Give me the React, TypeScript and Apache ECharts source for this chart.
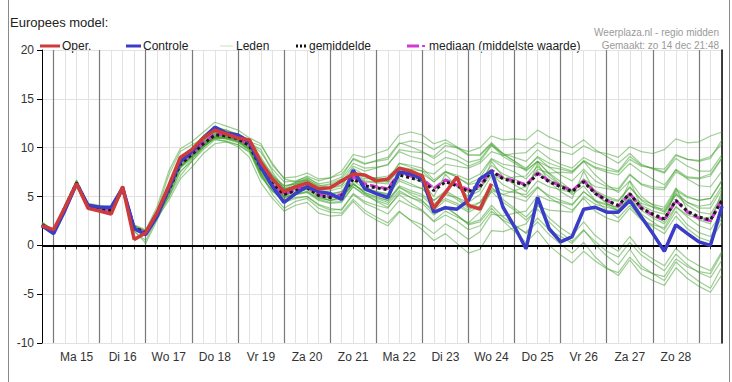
import React, { useEffect, useRef } from "react";
import * as echarts from "echarts";

const dayLabels = ["Ma 15", "Di 16", "Wo 17", "Do 18", "Vr 19", "Za 20", "Zo 21", "Ma 22", "Di 23", "Wo 24", "Do 25", "Vr 26", "Za 27", "Zo 28"];
const hourLabels = ["00", "06", "12", "18"];
const firstDay = "Zo 14";
const lastDay = "Ma 29";
const slotCount = 60;
const yTicks = { min: -10, max: 20, step: 5 };

const oper = [
  2.0, 1.6, 3.9, 6.3, 3.8, 3.5, 3.2, 6.0, 0.6, 1.3,
  3.4, 6.1, 9.0, 9.8, 11.0, 11.8, 11.4, 11.0, 10.8, 8.5,
  6.8, 5.5, 6.0, 6.4, 5.8, 5.9, 6.6, 7.3, 7.2, 6.6,
  6.8, 7.9, 7.6, 7.1, 3.8, 5.4, 7.0, 4.1, 3.7, 6.3,
];

const controle = [
  2.0, 1.2, 3.6, 6.3, 4.1, 3.9, 3.9, 5.9, 1.7, 1.1,
  3.0, 5.8, 8.6, 9.6, 11.0, 12.1, 11.5, 11.3, 10.6, 8.0,
  6.0, 4.4, 5.3, 6.0, 5.5, 5.3, 4.7, 7.7, 5.8, 5.3,
  4.9, 7.5, 7.3, 6.8, 3.4, 3.85, 3.7, 4.6, 6.8, 7.6,
  3.9, 1.9, -0.35, 4.9, 1.7, 0.35, 0.9, 3.7, 3.9, 3.4,
  3.4, 4.6, 2.9, 1.2, -0.6, 2.1, 1.2, 0.35, 0.0, 4.0,
];

const gemiddelde = [
  2.1, 1.4, 3.9, 6.4, 4.0, 3.8, 3.6, 5.8, 1.8, 1.3,
  3.3, 5.6, 8.3, 9.3, 10.4, 11.3, 11.2, 10.9, 10.2, 7.9,
  6.3, 5.2, 5.6, 5.9, 5.1, 4.9, 5.1, 6.8, 6.1, 5.9,
  5.7, 7.2, 6.9, 6.6, 5.6, 6.5, 6.1, 5.5, 6.0, 7.6,
  6.8, 6.5, 6.1, 7.3, 6.5, 6.0, 5.5, 6.5, 5.3, 4.6,
  4.1, 5.3, 3.8, 3.2, 2.7, 4.6, 3.5, 2.9, 2.6, 4.6,
];

const mediaan = [
  2.1, 1.4, 3.9, 6.4, 4.0, 3.8, 3.6, 5.8, 1.8, 1.3,
  3.3, 5.7, 8.4, 9.4, 10.5, 11.4, 11.3, 10.9, 10.3, 7.9,
  6.2, 5.2, 5.7, 6.0, 5.2, 5.0, 5.2, 7.0, 6.3, 6.0,
  5.8, 7.4, 7.1, 6.8, 5.8, 6.7, 6.2, 5.7, 6.1, 7.7,
  6.9, 6.6, 6.2, 7.4, 6.6, 6.1, 5.6, 6.6, 5.4, 4.6,
  4.0, 5.3, 3.8, 3.1, 2.6, 4.6, 3.4, 2.8, 2.5, 4.7,
];

const leden: number[][] = [
  [2.3,1.6,4.1,6.6,4.3,4.1,3.9,6.0,2.0,1.5, 3.6,6.2,9.0,10.0,11.2,12.1,11.8,11.3,10.6,8.6, 7.0,6.1,6.3,6.8,6.0,6.2,6.5,8.1,7.6,7.9, 8.3,9.6,9.1,8.8,8.2,9.0,8.7,8.1,8.6,10.2, 9.4,9.0,8.6,9.8,8.9,8.3,7.9,9.0,8.4,8.0, 7.6,9.1,8.2,7.9,7.5,9.2,8.8,8.6,8.9,10.8],
  [1.9,1.2,3.6,6.1,3.7,3.5,3.3,5.5,1.5,0.2, 2.6,5.0,7.6,8.6,9.8,10.8,10.7,10.3,9.5,7.0, 5.6,4.4,4.8,5.0,4.2,3.8,3.6,5.2,4.3,3.8, 3.2,4.6,4.0,3.5,2.4,3.1,2.5,1.6,2.0,3.5, 2.6,2.0,1.3,2.8,1.6,0.9,0.2,1.5,0.4,-0.6, -1.2,0.3,-1.0,-1.8,-2.6,-0.9,-2.0,-2.8,-3.3,-1.5],
  [2.2,1.5,4.0,6.5,4.1,3.9,3.7,5.9,1.9,1.4, 3.5,6.0,8.8,9.7,10.9,11.8,11.6,11.2,10.5,9.5, 7.8,6.5,6.6,7.0,6.2,5.8,6.1,7.9,7.2,6.8, 6.5,8.4,8.2,7.9,6.7,7.6,7.0,6.3,6.9,8.8, 8.0,7.5,6.8,8.1,7.0,6.2,5.5,6.6,5.2,4.3, 3.6,4.9,3.2,2.4,1.6,3.5,2.1,1.3,0.9,2.8],
  [2.0,1.3,3.7,6.2,3.9,3.6,3.4,5.6,1.6,1.1, 3.0,5.2,7.9,8.9,10.0,11.0,10.9,10.6,9.8,7.2, 5.9,4.9,5.2,5.5,4.7,4.4,4.5,6.0,5.2,4.8, 4.4,5.9,5.4,5.0,3.9,4.8,4.3,3.6,4.4,6.2, 5.6,5.4,5.2,6.6,6.0,5.7,5.4,6.8,6.0,5.8, 5.6,7.2,6.3,6.0,5.9,7.8,7.0,6.9,7.3,9.0],
  [2.4,1.5,4.2,6.7,4.2,4.0,3.8,6.1,2.1,1.6, 4.0,7.6,9.9,10.6,11.6,12.6,12.2,11.8,11.0,10.4, 8.2,6.9,7.0,7.4,6.8,6.9,7.3,8.8,8.3,8.7, 9.0,10.5,10.1,9.6,8.9,9.7,9.2,8.5,8.8,10.3, 9.1,8.4,7.6,8.6,7.4,6.5,5.6,6.7,5.5,4.8, 4.5,5.9,4.7,4.2,3.9,5.8,5.0,4.6,4.8,6.7],
  [2.0,1.4,3.8,6.3,3.8,3.6,3.5,5.7,1.7,1.2, 3.1,5.0,7.5,8.8,10.1,10.9,10.6,10.1,9.0,6.4, 4.8,3.5,4.1,4.4,3.3,3.0,3.1,4.5,3.3,2.6, 2.0,3.4,2.6,2.1,1.2,2.2,1.5,0.6,1.4,3.2, 3.0,3.3,3.5,5.1,4.6,4.4,4.1,5.5,4.5,4.1, 3.5,4.8,3.6,2.8,2.2,4.0,2.9,2.0,1.6,3.4],
  [2.1,1.4,3.9,6.4,4.0,3.8,3.6,5.8,1.8,1.3, 3.6,7.2,9.6,10.3,10.9,11.6,11.3,11.0,10.3,8.0, 6.2,5.0,5.7,6.2,5.0,4.6,4.9,7.5,6.0,5.5, 5.2,8.0,7.0,6.4,5.0,7.3,6.0,5.0,5.6,8.6, 7.0,6.2,5.5,8.4,6.5,5.5,4.8,7.6,5.4,4.3, 3.8,6.6,4.0,3.0,2.4,5.9,3.6,2.6,2.2,5.6],
  [2.2,1.4,3.9,6.4,4.1,3.9,3.8,6.0,1.9,1.3, 3.3,5.8,8.5,9.5,10.6,11.5,11.2,10.8,10.1,8.8, 7.2,5.8,6.0,6.2,5.5,5.6,5.9,7.2,6.8,6.9, 7.1,8.0,7.8,7.6,7.3,8.3,8.1,7.9,8.4,9.6, 9.2,9.4,9.5,10.5,9.9,9.6,9.3,10.2,9.6,9.4, 9.0,10.1,9.6,9.4,9.8,10.9,10.5,10.6,11.2,11.6],
  [2.1,1.3,3.8,6.3,4.0,3.7,3.5,5.7,1.7,1.2, 3.2,5.4,8.0,9.1,10.2,11.1,11.0,10.6,9.9,7.4, 5.9,5.0,5.3,5.5,4.8,4.6,4.9,6.2,5.6,5.3, 5.1,6.6,6.1,5.8,4.6,5.4,4.7,3.8,4.0,5.5, 4.4,3.6,2.6,3.7,2.4,1.3,0.4,1.6,0.1,-1.1, -2.0,-0.4,-2.1,-2.9,-3.6,-1.7,-2.8,-3.7,-4.4,-2.2],
  [2.3,1.6,4.0,6.5,3.9,3.7,3.4,5.6,1.6,1.2, 3.4,5.9,8.6,9.4,10.3,11.0,11.0,10.9,10.5,9.8, 7.5,5.8,5.9,6.4,5.5,5.1,5.0,6.4,5.3,4.5, 3.9,5.2,4.3,3.6,2.5,3.5,2.9,2.3,3.4,5.6, 5.2,5.6,6.0,7.8,7.4,7.5,7.4,8.6,7.9,7.5, 7.2,8.4,7.5,6.8,6.2,7.7,6.8,6.1,6.0,7.6],
  [1.9,1.3,3.8,6.2,4.1,3.9,3.7,5.9,1.8,1.4, 3.5,5.7,8.1,9.1,10.2,11.2,11.1,10.8,10.0,7.6, 6.1,5.3,5.8,6.0,5.3,5.2,5.5,7.1,6.5,6.4, 6.3,7.9,7.4,6.9,5.9,6.8,6.2,5.4,5.8,7.3, 6.2,5.6,4.9,6.0,4.9,4.2,3.6,4.8,3.5,2.8, 2.4,3.8,2.6,2.1,1.8,3.9,3.1,2.7,2.9,4.9],
  [2.2,1.5,4.0,6.5,4.0,3.8,3.6,5.8,1.8,1.3, 3.3,5.6,8.4,9.5,10.7,11.7,11.5,11.1,10.4,8.2, 6.6,5.7,6.4,6.9,6.3,6.5,7.0,8.9,8.4,8.6, 8.8,10.4,10.7,10.5,9.8,10.5,10.0,9.2,9.3,10.5, 9.4,8.6,7.7,8.6,7.3,6.2,5.2,6.1,4.6,3.6, 2.8,4.1,2.7,1.9,1.2,3.0,1.7,0.8,0.4,2.4],
  [2.0,1.3,3.7,6.2,3.8,3.6,3.4,5.6,1.7,1.1, 2.8,4.6,6.8,8.0,9.4,10.4,10.6,10.3,9.6,7.3, 5.5,4.6,4.9,5.0,4.1,3.6,3.7,5.3,4.5,4.1, 3.8,5.4,4.9,4.5,3.6,4.6,4.1,3.4,4.0,5.8, 5.2,4.9,4.5,5.9,5.1,4.6,4.2,5.5,4.6,4.2, 3.9,5.3,4.3,3.9,3.7,5.6,4.9,4.6,4.8,6.6],
  [2.1,1.5,4.0,6.4,4.0,3.8,3.7,5.9,1.8,1.3, 3.4,5.6,8.3,9.3,10.4,11.4,11.4,11.1,10.4,8.1, 6.4,5.4,5.8,6.1,5.4,5.3,5.5,7.2,6.6,6.5, 6.5,7.8,7.5,7.3,6.5,7.5,7.2,6.7,7.3,8.9, 8.3,8.1,7.8,9.1,8.4,8.0,7.6,8.6,7.2,6.2, 5.4,6.6,5.0,4.1,3.5,5.4,4.4,3.8,3.8,5.8],
  [2.0,1.2,3.8,6.3,3.9,3.7,3.5,5.7,1.4,0.5, 2.8,5.3,8.0,9.0,10.1,11.0,10.9,10.5,9.7,7.5, 6.0,4.9,5.2,5.4,4.6,4.3,4.4,6.0,5.1,4.6, 4.2,5.6,4.9,4.3,3.1,3.9,3.1,2.2,2.6,4.1, 2.9,2.1,1.2,2.4,1.1,0.1,-0.8,0.3,-1.2,-2.3, -3.1,-1.5,-3.0,-3.6,-4.1,-2.3,-3.4,-4.2,-4.8,-3.0],
  [2.3,1.5,4.1,6.6,4.2,4.0,3.8,6.0,2.0,1.5, 3.6,6.0,8.7,9.8,11.0,12.0,11.8,11.4,10.7,9.0, 7.2,6.1,6.3,6.6,5.9,5.9,6.2,7.6,7.0,6.9, 6.8,8.4,8.0,7.6,6.5,7.5,7.0,6.2,6.5,8.2, 7.3,6.8,6.2,7.6,6.7,6.1,5.6,6.7,5.6,5.0, 4.6,6.0,4.6,3.9,3.4,5.2,4.1,3.4,3.2,5.1],
  [2.2,1.5,3.9,6.4,4.0,3.8,3.6,5.8,1.8,1.3, 3.3,5.7,8.4,9.4,10.5,11.3,11.2,11.0,10.6,10.2, 8.4,6.8,6.5,6.7,5.6,5.0,5.0,6.3,5.4,4.9, 4.6,6.1,5.6,5.2,4.2,5.2,4.9,4.4,5.2,7.1, 6.8,7.0,7.1,8.6,8.0,7.8,7.5,8.7,8.0,7.7, 7.5,8.8,8.1,7.9,7.8,9.3,8.8,8.7,9.1,10.4],
  [2.1,1.4,3.8,6.3,3.9,3.7,3.6,5.8,1.8,1.2, 3.2,5.4,8.0,9.2,10.3,11.1,11.0,10.7,9.8,7.0, 5.6,4.8,5.4,5.8,5.0,4.8,5.0,6.6,5.8,5.5, 5.3,6.8,6.3,5.8,4.6,5.6,4.9,4.0,4.4,6.0, 4.7,3.8,2.9,4.2,2.8,1.8,1.0,2.4,1.0,0.1, -0.6,0.9,-0.6,-1.4,-2.1,-0.3,-1.4,-2.1,-2.6,-0.6],
  [2.2,1.5,4.0,6.5,4.1,3.9,3.7,5.9,1.9,1.4, 3.4,5.9,8.6,9.6,10.8,11.6,11.4,11.0,10.3,8.3, 6.8,5.9,6.5,7.1,6.6,6.9,7.6,9.3,9.0,9.4, 9.8,11.3,11.6,11.3,10.4,10.8,10.1,9.3,9.2,10.4, 9.3,8.6,7.9,9.0,8.0,7.2,6.6,7.8,6.6,6.0, 5.8,7.3,6.2,5.8,5.7,7.5,6.9,6.8,7.1,8.9],
  [2.0,1.3,3.8,6.3,4.0,3.8,3.6,5.7,1.7,1.2, 3.0,4.9,7.1,8.6,10.0,11.0,11.0,10.7,9.9,7.3, 5.2,3.8,4.5,4.8,3.8,3.4,3.3,4.7,3.6,2.9, 2.3,3.5,2.5,1.6,0.5,1.2,0.2,-0.8,-0.4,1.5, 1.4,1.8,2.2,4.0,3.6,3.5,3.4,5.0,4.2,3.9, 3.6,5.1,4.1,3.5,3.2,5.2,4.4,4.0,4.2,6.1],
  [2.2,1.4,3.9,6.4,4.0,3.9,3.7,5.9,1.8,1.3, 3.3,5.7,8.3,9.4,10.5,11.4,11.2,10.9,10.2,8.0, 6.5,5.6,6.2,6.7,6.1,6.3,6.8,8.4,7.9,8.0, 8.2,9.8,9.6,9.5,9.1,10.2,10.0,9.6,10.0,11.2, 10.8,10.9,10.8,11.8,11.1,10.6,10.0,10.8,9.8,9.1, 8.4,9.4,8.3,7.8,7.4,8.9,8.1,7.6,7.6,9.3],
  [2.1,1.4,3.9,6.4,4.0,3.8,3.6,5.8,1.8,1.3, 3.3,5.5,8.1,9.2,10.3,11.2,11.1,10.8,10.0,7.7, 6.2,5.1,5.5,5.7,4.9,4.6,4.7,6.3,5.4,5.0, 4.6,6.0,5.2,4.6,3.3,4.0,3.1,2.1,2.4,3.8, 2.5,1.4,0.3,1.5,0.0,-1.0,-1.8,-0.6,-1.6,-2.4, -2.8,-1.2,-2.4,-2.9,-3.2,-1.4,-2.2,-2.7,-2.9,-0.8],
];

const legendNames = ["Oper.", "Controle", "Leden", "gemiddelde", "mediaan (middelste waarde)"];
const titleText = "Europees model:";
const sourceText = "Weerplaza.nl - regio midden";
const madeText = "Gemaakt: zo 14 dec 21:48";

const RED = "#cf3b3b";
const BLUE = "#3a3dc6";
const GREEN = "rgba(60,160,40,0.5)";
const MAGENTA = "#d23ad2";
const FONT = "Liberation Sans, Arial, sans-serif";

function buildCategories(): string[] {
  const cats: string[] = [];
  for (let i = 0; i < slotCount; i++) {
    const dayIdx = Math.floor((i + 3) / 4) - 1;
    const day = dayIdx < 0 ? firstDay : dayIdx < dayLabels.length ? dayLabels[dayIdx] : lastDay;
    cats.push(`${day} ${hourLabels[(i + 3) % 4]}`);
  }
  return cats;
}

export default function App() {
  const ref = useRef<HTMLDivElement>(null);
  useEffect(() => {
    if (!ref.current) return;
    const chart = echarts.init(ref.current, undefined, { renderer: "svg" });
    const categories = buildCategories();
    const isLabelSlot = (idx: number) => (idx + 3) % 4 === 2 && idx < dayLabels.length * 4;
    const isDayStart = (idx: number) => (idx + 3) % 4 === 0;

    const ledenSeries = leden.map((d) => ({
      name: "Leden",
      type: "line",
      data: d,
      symbol: "none",
      silent: true,
      z: 2,
      lineStyle: { color: GREEN, width: 1.2 },
    }));

    const txt = (x: number, y: number, text: string, extra: any = {}) => ({
      type: "text",
      x,
      y,
      silent: true,
      style: {
        text,
        fill: "#222",
        font: `12px ${FONT}`,
        textVerticalAlign: "middle",
        verticalAlign: "middle",
        ...extra,
      },
    });
    const ln = (x1: number, x2: number, y: number, stroke: string, lineWidth: number, lineDash?: number[]) => ({
      type: "line",
      silent: true,
      shape: { x1, y1: y, x2, y2: y },
      style: { stroke, lineWidth, lineDash },
    });

    const option: any = {
      animation: false,
      grid: { left: 42, right: 10, top: 50, bottom: 39, containLabel: false },
      xAxis: [
        {
          type: "category",
          data: categories,
          boundaryGap: false,
          axisLine: { show: true, lineStyle: { color: "#000", width: 1 } },
          axisTick: { show: true, interval: 0, length: 4, lineStyle: { color: "#333" } },
          axisLabel: {
            interval: (idx: number) => isLabelSlot(idx),
            formatter: (v: string) => v.split(" ").slice(0, 2).join(" "),
            color: "#333",
            fontSize: 12,
            fontFamily: FONT,
            margin: 8,
          },
          splitLine: { show: true, interval: 0, lineStyle: { color: "#e2e2e2", width: 1 } },
        },
        {
          type: "category",
          data: categories,
          boundaryGap: false,
          position: "bottom",
          axisLine: { show: false },
          axisTick: { show: false },
          axisLabel: { show: false },
          splitLine: {
            show: true,
            interval: (idx: number) => isDayStart(idx),
            lineStyle: { color: "#7a7a7a", width: 1.2 },
          },
        },
      ],
      yAxis: [
        {
          type: "value",
          min: yTicks.min,
          max: yTicks.max,
          interval: yTicks.step,
          axisLine: { show: true, lineStyle: { color: "#000", width: 1 } },
          axisTick: { show: true, length: 5, lineStyle: { color: "#000" } },
          axisLabel: { color: "#333", fontSize: 12, fontFamily: FONT, margin: 8 },
          splitLine: { show: true, lineStyle: { color: "#e2e2e2", width: 1 } },
        },
        {
          type: "value",
          min: yTicks.min,
          max: yTicks.max,
          interval: yTicks.step,
          position: "right",
          axisLine: { show: true, lineStyle: { color: "#000", width: 1.5 } },
          axisTick: { show: false },
          axisLabel: { show: false },
          splitLine: { show: false },
        },
      ],
      series: [
        ...ledenSeries,
        {
          name: "mediaan (middelste waarde)",
          type: "line",
          data: mediaan,
          symbol: "none",
          z: 3,
          lineStyle: { color: MAGENTA, width: 3, type: [8, 3] },
          markLine: {
            silent: true,
            symbol: ["none", "none"],
            label: { show: false },
            lineStyle: { color: "#000", width: 2, type: "solid" },
            data: [{ yAxis: 0 }],
          },
        },
        {
          name: "gemiddelde",
          type: "line",
          data: gemiddelde,
          symbol: "none",
          z: 4,
          lineStyle: { color: "#1a1a1a", width: 3, type: [3, 3] },
        },
        {
          name: "Controle",
          type: "line",
          data: controle,
          symbol: "none",
          z: 5,
          lineStyle: { color: BLUE, width: 3.5 },
        },
        {
          name: "Oper.",
          type: "line",
          data: oper,
          symbol: "none",
          z: 6,
          lineStyle: { color: RED, width: 3.5 },
        },
      ],
      graphic: [
        { type: "line", silent: true, shape: { x1: 8.5, y1: 0, x2: 8.5, y2: 382 }, style: { stroke: "#8a8a8a", lineWidth: 1 } },
        { type: "line", silent: true, shape: { x1: 729.5, y1: 0, x2: 729.5, y2: 382 }, style: { stroke: "#8a8a8a", lineWidth: 1 } },
        txt(10, 22, titleText, { font: `13px ${FONT}` }),
        ln(40, 60, 46, RED, 3),
        txt(62, 46, legendNames[0]),
        ln(126, 141, 46, BLUE, 3),
        txt(143, 46, legendNames[1]),
        ln(220, 233, 46, "#c9e5b8", 1),
        txt(236, 46, legendNames[2]),
        ln(296, 306, 46, "#111", 3, [2, 2]),
        txt(309, 46, legendNames[3]),
        ln(407, 419, 46, MAGENTA, 3),
        ln(422, 425, 46, MAGENTA, 2),
        txt(429, 46, legendNames[4]),
        txt(719, 32, sourceText, { fill: "#9a9a9a", font: `10px ${FONT}`, align: "right", textAlign: "right" }),
        txt(719, 45, madeText, { fill: "#9a9a9a", font: `10px ${FONT}`, align: "right", textAlign: "right" }),
      ],
    };
    chart.setOption(option);
    return () => chart.dispose();
  }, []);
  return (
    <div
      ref={ref}
      style={{ position: "absolute", left: 0, top: 0, width: 732, height: 382, background: "#fff" }}
    />
  );
}
